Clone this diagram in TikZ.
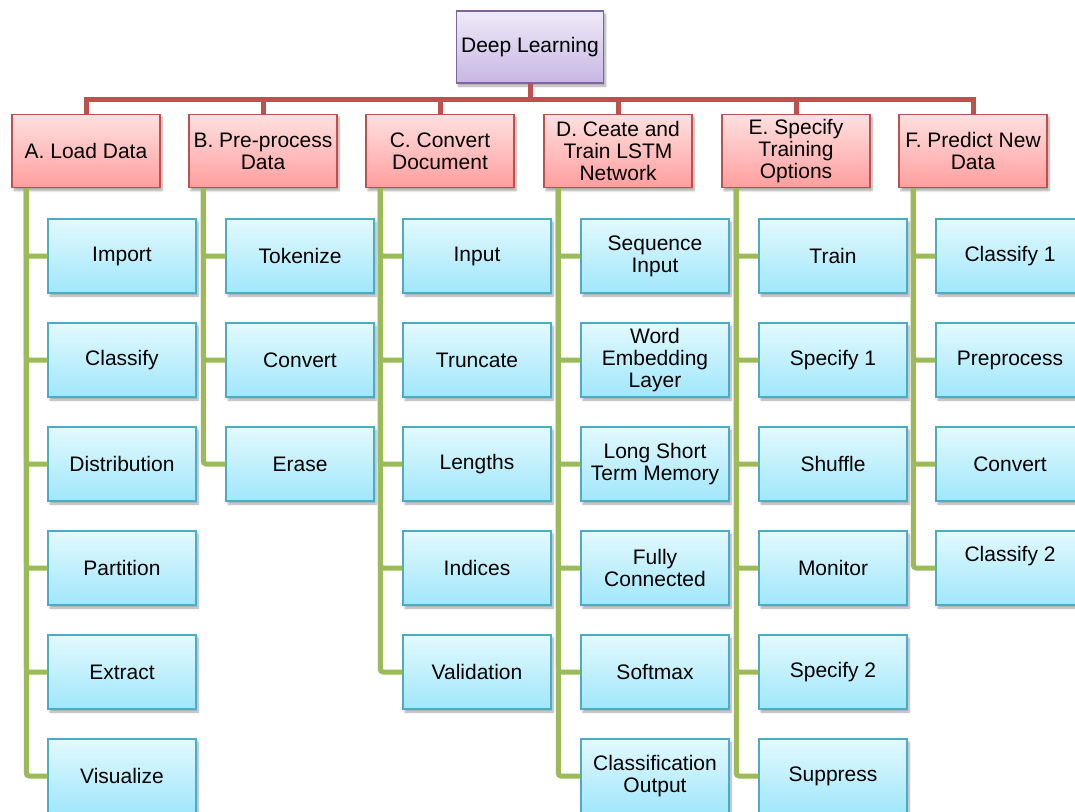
\documentclass[tikz,border=0pt]{standalone}
\usepackage{fontspec}
\setmainfont{Liberation Sans}
\usetikzlibrary{positioning,shadows.blur}

\definecolor{rootborder}{HTML}{8064A2}
\definecolor{roottop}{HTML}{EFEAF8}
\definecolor{rootbot}{HTML}{C8B6E3}
\definecolor{catborder}{HTML}{C0504D}
\definecolor{cattop}{HTML}{FFE0E0}
\definecolor{catbot}{HTML}{FF9E9E}
\definecolor{leafborder}{HTML}{4BACC6}
\definecolor{leaftop}{HTML}{E3F9FE}
\definecolor{leafbot}{HTML}{A0E7FB}
\definecolor{redwire}{HTML}{C0504D}
\definecolor{greenwire}{HTML}{9BBB59}

\tikzset{
  box/.style={draw, line width=1.5pt, minimum width=148pt, minimum height=73pt,
    align=center, inner sep=1pt, font=\fontsize{21}{22}\selectfont,
    blur shadow={shadow xshift=2pt, shadow yshift=-3pt, shadow opacity=35, shadow blur steps=6}},
  rootbox/.style={box, draw=rootborder, top color=roottop, bottom color=rootbot,
    minimum width=147pt, minimum height=72pt},
  catbox/.style={box, draw=catborder, top color=cattop, bottom color=catbot},
  leafbox/.style={box, draw=leafborder, top color=leaftop, bottom color=leafbot,
    minimum height=74pt},
  redwire/.style={draw=redwire, line width=5pt},
  greenwire/.style={draw=greenwire, line width=5pt, rounded corners=3pt},
}

\begin{document}
\begin{tikzpicture}[x=1pt,y=-1pt]

\useasboundingbox (0,0) rectangle (1075,811);

% top
\node[rootbox] (root) at (530,47) {Deep Learning};

% categories
\node[catbox] (A) at (86,151) {A. Load Data};
\node[catbox] (B) at (263,151) {B. Pre-process\\Data};
\node[catbox] (C) at (440,151) {C. Convert\\Document};
\node[catbox] (D) at (618,151) {D. Ceate and\\Train LSTM\\Network};
\node[catbox] (E) at (796,151) {E. Specify\\Training\\Options};
\node[catbox] (F) at (973,151) {F. Predict New\\Data};

% red connectors
\coordinate (bar) at (530,99);
\draw[redwire] (root.south) -- (bar);
\foreach \c in {A,B,C,D,E,F}
  \draw[redwire] (bar) -| (\c.north);

% steps
\foreach \txt [count=\i] in {Import,Classify,Distribution,Partition,Extract,Visualize}
  \node[leafbox] (A\i) at (122,152+104*\i) {\txt};
\foreach \txt [count=\i] in {Tokenize,Convert,Erase}
  \node[leafbox] (B\i) at (300,152+104*\i) {\txt};
\foreach \txt [count=\i] in {Input,Truncate,Lengths,Indices,Validation}
  \node[leafbox] (C\i) at (477,152+104*\i) {\txt};
\foreach \txt [count=\i] in {{Sequence\\Input},{Word\\Embedding\\Layer},{Long Short\\Term Memory},{Fully\\Connected},Softmax,{Classification\\Output}}
  \node[leafbox] (D\i) at (655,152+104*\i) {\txt};
\foreach \txt [count=\i] in {Train,Specify 1,Shuffle,Monitor,Specify 2,Suppress}
  \node[leafbox] (E\i) at (833,152+104*\i) {\txt};
\foreach \txt [count=\i] in {Classify 1,Preprocess,Convert,{Classify 2\\[6pt]}}
  \node[leafbox] (F\i) at (1010,152+104*\i) {\txt};

% green connectors
\foreach \i in {1,...,6}
  \draw[greenwire] ([xshift=15pt]A.south west) |- (A\i.west);
\foreach \i in {1,...,3}
  \draw[greenwire] ([xshift=15pt]B.south west) |- (B\i.west);
\foreach \i in {1,...,5}
  \draw[greenwire] ([xshift=15pt]C.south west) |- (C\i.west);
\foreach \i in {1,...,6}
  \draw[greenwire] ([xshift=15pt]D.south west) |- (D\i.west);
\foreach \i in {1,...,6}
  \draw[greenwire] ([xshift=15pt]E.south west) |- (E\i.west);
\foreach \i in {1,...,4}
  \draw[greenwire] ([xshift=15pt]F.south west) |- (F\i.west);

\end{tikzpicture}
\end{document}
